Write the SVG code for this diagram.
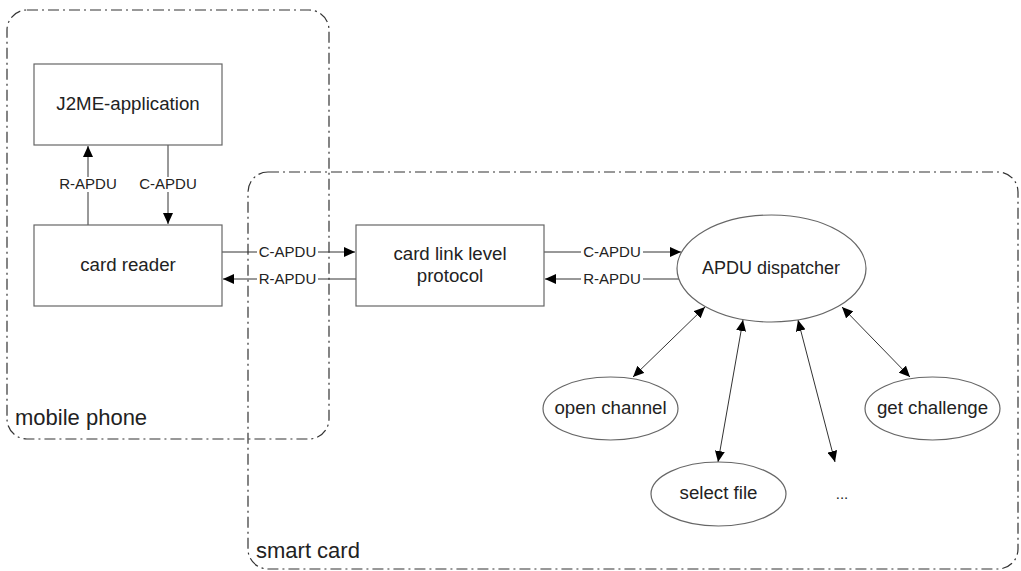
<svg xmlns="http://www.w3.org/2000/svg" width="1021" height="571" viewBox="0 0 1021 571">
<style>
.cont{fill:none;stroke:#333;stroke-width:1.2;stroke-dasharray:11,4,2,4}
.ctext{font-family:"Liberation Sans",Arial,sans-serif;font-size:22px;fill:#222}
.box{fill:#fff;stroke:#666;stroke-width:1.2}
.ntext{font-family:"Liberation Sans",Arial,sans-serif;font-size:18.7px;fill:#222;text-anchor:middle}
.conn{fill:none;stroke:#333;stroke-width:1}
.lbl{font-family:"Liberation Sans",Arial,sans-serif;font-size:15px;fill:#222;text-anchor:middle}
.lbg{fill:#fff}
</style>
<defs>
<marker id="ah" markerWidth="12" markerHeight="10" refX="11" refY="5" orient="auto-start-reverse" markerUnits="userSpaceOnUse">
<path d="M0,0 L11,5 L0,10 Z" fill="#000"/>
</marker>
</defs>
<rect width="1021" height="571" fill="#fff"/>
<g id="mobile-phone">
<rect class="cont" x="7" y="10" width="322" height="429" rx="20" ry="20"/>
<text class="ctext" x="15" y="425">mobile phone</text>
</g>
<g id="smart-card">
<rect class="cont" x="248" y="172" width="770" height="397" rx="20" ry="20"/>
<text class="ctext" x="256" y="558">smart card</text>
</g>
<g id="connectors">
<line class="conn" x1="88" y1="225" x2="88" y2="146" marker-end="url(#ah)"/>
<rect class="lbg" x="59" y="177" width="58" height="15"/>
<text class="lbl" x="88" y="189">R-APDU</text>
<line class="conn" x1="168" y1="145" x2="168" y2="224" marker-end="url(#ah)"/>
<rect class="lbg" x="139" y="177" width="58" height="15"/>
<text class="lbl" x="168" y="189">C-APDU</text>
<line class="conn" x1="222" y1="252" x2="355" y2="252" marker-end="url(#ah)"/>
<rect class="lbg" x="257" y="245" width="61" height="15"/>
<text class="lbl" x="287.5" y="257">C-APDU</text>
<line class="conn" x1="356" y1="279" x2="223" y2="279" marker-end="url(#ah)"/>
<rect class="lbg" x="257" y="272" width="61" height="15"/>
<text class="lbl" x="287.5" y="284">R-APDU</text>
<line class="conn" x1="544" y1="252" x2="681" y2="252" marker-end="url(#ah)"/>
<rect class="lbg" x="581" y="245" width="62" height="15"/>
<text class="lbl" x="612" y="257">C-APDU</text>
<line class="conn" x1="679" y1="279" x2="545" y2="279" marker-end="url(#ah)"/>
<rect class="lbg" x="581" y="272" width="62" height="15"/>
<text class="lbl" x="612" y="284">R-APDU</text>
<line class="conn" x1="705" y1="307" x2="633" y2="377" marker-start="url(#ah)" marker-end="url(#ah)"/>
<line class="conn" x1="743" y1="320" x2="718" y2="462" marker-start="url(#ah)" marker-end="url(#ah)"/>
<line class="conn" x1="798" y1="320" x2="835" y2="462" marker-start="url(#ah)" marker-end="url(#ah)"/>
<line class="conn" x1="842" y1="307" x2="910" y2="377" marker-start="url(#ah)" marker-end="url(#ah)"/>
</g>
<g id="j2me-application">
<rect class="box" x="34" y="64" width="188" height="81"/>
<text class="ntext" x="128" y="110">J2ME-application</text>
</g>
<g id="card-reader">
<rect class="box" x="34" y="225" width="188" height="81"/>
<text class="ntext" x="128" y="271">card reader</text>
</g>
<g id="card-link-level-protocol">
<rect class="box" x="356" y="225" width="188" height="81"/>
<text class="ntext" x="450" y="260">card link level</text>
<text class="ntext" x="450" y="282">protocol</text>
</g>
<g id="apdu-dispatcher">
<ellipse class="box" cx="771.5" cy="268.5" rx="94.5" ry="53.5"/>
<text class="ntext" x="771" y="274" style="font-size:18px">APDU dispatcher</text>
</g>
<g id="open-channel">
<ellipse class="box" cx="610.5" cy="408.5" rx="67.5" ry="31.5"/>
<text class="ntext" x="610.5" y="414">open channel</text>
</g>
<g id="select-file">
<ellipse class="box" cx="718.5" cy="494" rx="67.5" ry="32"/>
<text class="ntext" x="718.5" y="499">select file</text>
</g>
<g id="get-challenge">
<ellipse class="box" cx="932.5" cy="408.5" rx="67.5" ry="31.5"/>
<text class="ntext" x="932.5" y="414">get challenge</text>
</g>
<g id="more">
<text class="ntext" x="842" y="499" style="font-size:15px">...</text>
</g>
</svg>
